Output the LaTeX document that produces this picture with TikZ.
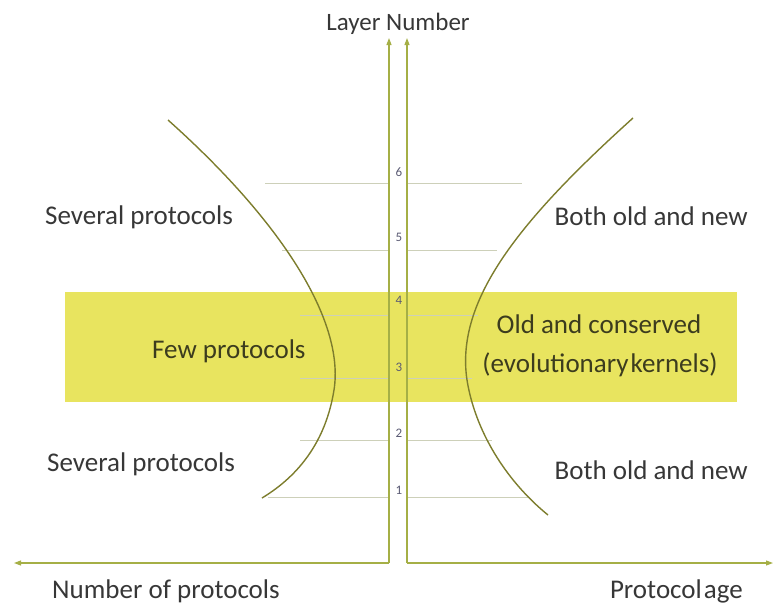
\documentclass[tikz,border=0pt]{standalone}
\usepackage{fontspec}
\setmainfont{Carlito}
\usetikzlibrary{arrows.meta}
\definecolor{band}{RGB}{232,228,95}
\definecolor{axis}{RGB}{165,175,70}
\definecolor{curve}{RGB}{125,125,45}
\definecolor{grid}{RGB}{205,208,185}
\definecolor{numc}{RGB}{90,90,115}
\definecolor{txt}{RGB}{55,55,55}
\definecolor{bandtxt}{RGB}{60,60,30}
\tikzset{
  axisline/.style={draw=axis, line width=1.1pt, -{Triangle[width=5pt,length=7pt]}},
  curveline/.style={draw=curve, line width=1.4pt},
  gridline/.style={draw=grid, line width=0.9pt},
  lbl/.style={text=txt, inner sep=0pt, font=\fontsize{27}{32}\selectfont},
  num/.style={font=\fontsize{13}{14}\selectfont, text=numc, inner sep=0pt},
}
\begin{document}
\begin{tikzpicture}[x=1pt,y=-1pt]
\useasboundingbox (0,0) rectangle (777,606);
% band
\fill[band] (65,292) rectangle (737,402);
% grid lines
\foreach \y/\xl/\xr in {183/265/522, 250/282/497, 315/300/478, 378/300/472, 440/300/492, 497/268/528}{
  \draw[gridline] (\xl,\y) -- (389,\y);
  \draw[gridline] (407,\y) -- (\xr,\y);
}
% axes
\coordinate (o1) at (389,563);
\coordinate (o2) at (407,563);
\coordinate (t1) at (389,38);
\coordinate (t2) at (407,38);
\coordinate (l) at (14,563);
\coordinate (r) at (773,563);
\draw[axisline] (o1) -- (t1);
\draw[axisline] (o2) -- (t2);
\draw[axisline] (o1) -- (l);
\draw[axisline] (o2) -- (r);
% curves
\draw[curveline] (168,120) .. controls (280,220) and (345,320) .. (334,390)
  .. controls (326,440) and (300,475) .. (262,498);
\draw[curveline] (633,118) .. controls (520,220) and (455,300) .. (467,380)
  .. controls (475,430) and (505,480) .. (548,515);
% numbers
\foreach \n/\y in {6/172,5/237,4/300,3/367,2/433,1/490}{
  \node[num] (n\n) at (399,\y) {\n};
}
% labels
\node[lbl, anchor=base, font=\fontsize{25}{30}\selectfont] (ln) at (398,30) {Layer Number};
\node[lbl, anchor=base west] (np) at (52,598) {Number of protocols};
\node[lbl, anchor=base east] (pa) at (743,598) {Protocol\hspace{-4pt} age};
\node[lbl, anchor=base west] (s1) at (45,224) {Several protocols};
\node[lbl, anchor=base east] (b1) at (748,225) {Both old and new};
\node[lbl, anchor=base west, text=bandtxt] (fp) at (152,358) {Few protocols};
\node[lbl, anchor=base, text=bandtxt] (oc) at (599,333) {Old and conserved};
\node[lbl, anchor=base, text=bandtxt] (ek) at (600,372) {(evolutionary\hspace{-4pt} kernels)};
\node[lbl, anchor=base west] (s2) at (47,471) {Several protocols};
\node[lbl, anchor=base east] (b2) at (748,479) {Both old and new};
\end{tikzpicture}
\end{document}
